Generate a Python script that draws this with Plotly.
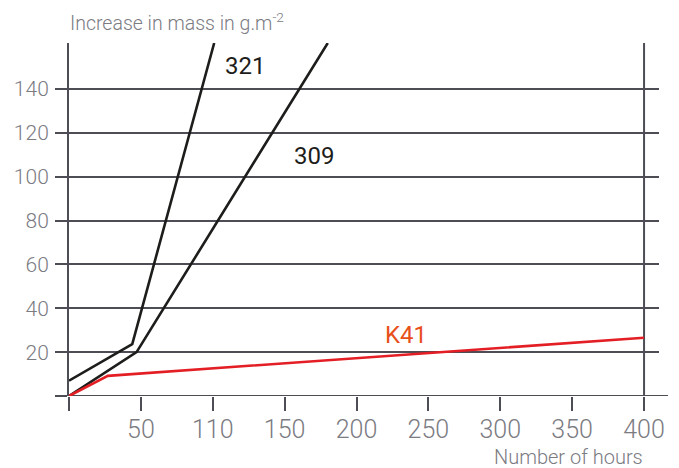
import plotly.graph_objects as go

# Data
hours_321 = [0, 44, 101]
mass_321 = [7, 23.7, 161]
hours_309 = [0, 47, 180]
mass_309 = [0, 20, 161]
hours_k41 = [0, 27, 400]
mass_k41 = [0, 9.2, 26.6]

x_tickvals = [0, 50, 100, 150, 200, 250, 300, 350, 400]
x_ticktext = ["", "50", "110", "150", "200", "250", "300", "350", "400"]
y_tickvals = [0, 20, 40, 60, 80, 100, 120, 140]
y_ticktext = ["", "20", "40", "60", "80", "100", "120", "140"]

GRID = "#4c4d55"
TXT = "#7b7b82"
FONT = "Roboto"

fig = go.Figure()
fig.add_trace(go.Scatter(x=hours_321, y=mass_321, mode="lines",
                         line=dict(color="#1d1d1b", width=2.6), showlegend=False))
fig.add_trace(go.Scatter(x=hours_309, y=mass_309, mode="lines",
                         line=dict(color="#1d1d1b", width=2.6), showlegend=False))
fig.add_trace(go.Scatter(x=hours_k41, y=mass_k41, mode="lines",
                         line=dict(color="#e31e24", width=2.6), showlegend=False))

# vertical line at 400 hours and extended bottom axis line
fig.add_shape(type="line", xref="x", yref="paper", x0=400, x1=400, y0=0, y1=1,
              line=dict(color=GRID, width=2), layer="below")
fig.add_shape(type="line", xref="paper", yref="y", x0=-12/590, x1=1+9/590, y0=0, y1=0,
              line=dict(color=GRID, width=2), layer="below")

fig.add_annotation(x=122.4, y=150.5, text="321", showarrow=False,
                   font=dict(family=FONT, size=24, color="#1d1d1b"))
fig.add_annotation(x=170.4, y=109.6, text="309", showarrow=False,
                   font=dict(family=FONT, size=24, color="#1d1d1b"))
fig.add_annotation(x=234.4, y=28.0, text="K41", showarrow=False,
                   font=dict(family=FONT, size=24, color="#e8501a"))

fig.add_annotation(xref="paper", yref="paper", x=-1/590, y=(396-22)/353,
                   xanchor="left", yanchor="middle", showarrow=False,
                   text="Increase in mass in g.m<sup>-2</sup>",
                   font=dict(family=FONT, size=19.5, color=TXT, weight=300))
fig.add_annotation(xref="x", yref="paper", x=401, y=(396-457)/353,
                   xanchor="right", yanchor="middle", showarrow=False,
                   text="Number of hours",
                   font=dict(family=FONT, size=20, color=TXT, weight=300))

fig.update_xaxes(range=[0, 410.4], tickvals=x_tickvals, ticktext=x_ticktext,
                 ticks="outside", ticklen=14, tickwidth=2, tickcolor=GRID,
                 showgrid=False, zeroline=False, showline=False, automargin=False,
                 ticklabelstandoff=-3,
                 tickfont=dict(family=FONT, size=25, color=TXT, weight=300))
fig.update_yaxes(range=[0, 161], tickvals=y_tickvals, ticktext=y_ticktext,
                 ticks="outside", ticklen=12, tickwidth=2, tickcolor=GRID,
                 showgrid=True, gridcolor=GRID, gridwidth=2, automargin=False,
                 zeroline=False, showline=True, linecolor=GRID, linewidth=2,
                 ticklabelstandoff=2,
                 tickfont=dict(family=FONT, size=21, color=TXT, weight=300))

# page body has an 8px default margin, so offsets compensate for it
fig.update_layout(width=679, height=468, margin=dict(l=61, r=28, t=35, b=80, autoexpand=False),
                  plot_bgcolor="white", paper_bgcolor="white")
fig.write_html("out.html")
